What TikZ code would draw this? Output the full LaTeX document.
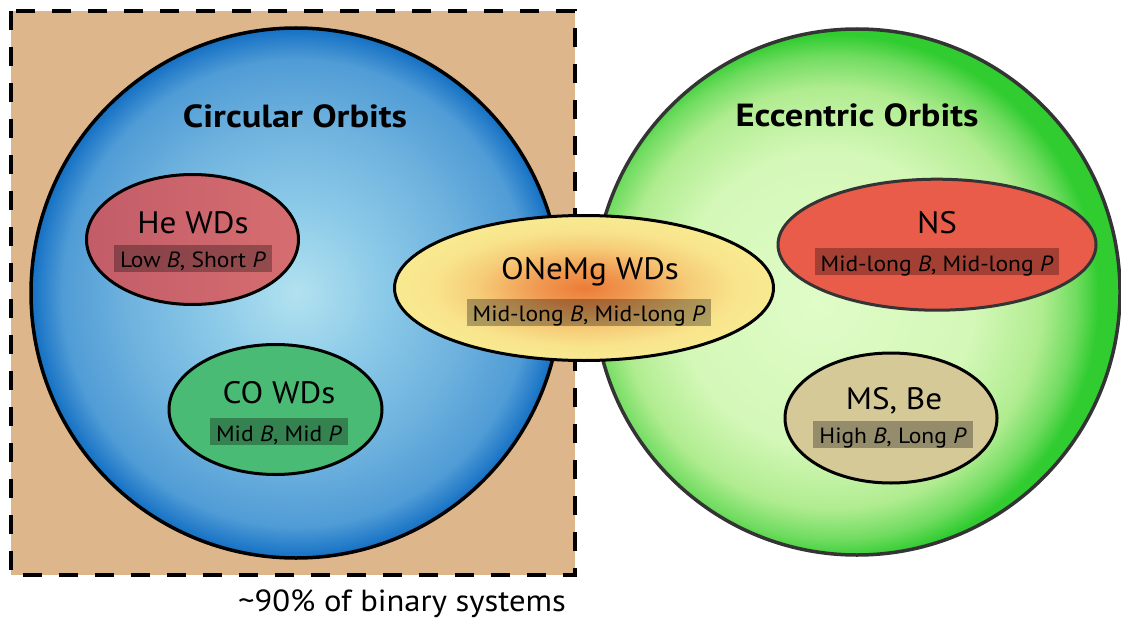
\documentclass[tikz,border=0pt]{standalone}
\usepackage{fontspec}
\setmainfont{PT Sans}[FakeStretch=1.07, BoldFeatures={FakeStretch=1.14}]
\usetikzlibrary{shapes.geometric}
\definecolor{tanbg}{RGB}{221,182,140}
\definecolor{bA}{RGB}{178,226,240}
\definecolor{bB}{RGB}{140,202,232}
\definecolor{bC}{RGB}{110,178,222}
\definecolor{bD}{RGB}{80,156,214}
\definecolor{bE}{RGB}{20,112,196}
\definecolor{gA}{RGB}{224,252,200}
\definecolor{gB}{RGB}{212,248,184}
\definecolor{gC}{RGB}{176,236,144}
\definecolor{gD}{RGB}{112,220,96}
\definecolor{gE}{RGB}{48,204,48}
\definecolor{oA}{RGB}{236,124,56}
\definecolor{oB}{RGB}{240,152,80}
\definecolor{oC}{RGB}{246,204,120}
\definecolor{oD}{RGB}{248,228,140}
\definecolor{oE}{RGB}{248,234,144}
\definecolor{heL}{RGB}{194,92,104}
\definecolor{heR}{RGB}{214,110,112}
\definecolor{cofill}{RGB}{74,187,116}
\definecolor{nsfill}{RGB}{234,92,74}
\definecolor{msfill}{RGB}{213,201,152}
\definecolor{dgray}{RGB}{52,52,52}
\pgfdeclareradialshading{blueball}{\pgfpoint{0bp}{0bp}}{color(0bp)=(bA); color(8bp)=(bB); color(16bp)=(bC); color(22bp)=(bD); color(25bp)=(bE); color(50bp)=(bE)}
\pgfdeclareradialshading{greenball}{\pgfpoint{-4bp}{-1bp}}{color(0bp)=(gA); color(14bp)=(gB); color(20bp)=(gC); color(23bp)=(gD); color(25bp)=(gE); color(50bp)=(gE)}
\pgfdeclareradialshading{orangeball}{\pgfpoint{0bp}{0bp}}{color(0bp)=(oA); color(6bp)=(oB); color(14bp)=(oC); color(20bp)=(oD); color(25bp)=(oE); color(50bp)=(oE)}
\tikzset{
  orbit/.style={circle, inner sep=0pt, line width=3.5pt, shade},
  pop/.style={ellipse, inner sep=0pt, line width=3pt, draw=black},
  ttl/.style={font=\fontsize{31}{31}\selectfont, anchor=base, inner sep=0pt},
  hd/.style={font=\bfseries\fontsize{32}{32}\selectfont, anchor=base, inner sep=0pt},
  lbl/.style={font=\fontsize{22}{22}\selectfont, anchor=base, fill=black, fill opacity=0.3, text opacity=1, inner xsep=6pt, inner ysep=0pt, text height=23pt, text depth=4pt},
  frame/.style={line width=4.5pt, dash pattern=on 19pt off 17pt},
}
\begin{document}
\begin{tikzpicture}[x=1pt,y=-1pt]
\useasboundingbox (0,0) rectangle (1121,623);
% background area
\fill[tanbg] (11,11) rectangle (575,575);
\draw[frame] (11,11) rectangle (575,575);
% orbit circles
\node[orbit, shading=blueball, draw=black, minimum size=530pt] (circ) at (296,293) {};
\node[orbit, shading=greenball, draw=dgray, minimum size=526pt] (ecc) at (857,292) {};
% populations
\node[pop, left color=heL, right color=heR, minimum width=212pt, minimum height=130pt] (he) at (192.5,239.5) {};
\node[pop, fill=cofill, minimum width=213pt, minimum height=130pt] (co) at (275.5,409.5) {};
\node[pop, draw=dgray, fill=nsfill, minimum width=318pt, minimum height=131pt] (ns) at (937,244.7) {};
\node[pop, fill=msfill, minimum width=212pt, minimum height=130pt] (ms) at (891,418) {};
\node[pop, shade, shading=orangeball, minimum width=379pt, minimum height=145pt] (one) at (584,288) {};
% titles
\node[hd] (circt) at (295,128) {Circular Orbits};
\node[hd] (ecct) at (857,127) {Eccentric Orbits};
\node[ttl] (het) at (193,233) {He WDs};
\node[lbl] (hel) at (193,267.7) {Low \textit{B}, Short \textit{P}};
\node[ttl] (cot) at (279,403) {CO WDs};
\node[lbl] (col) at (279,441) {Mid \textit{B}, Mid \textit{P}};
\node[ttl] (onet) at (590,279) {ONeMg WDs};
\node[lbl] (onel) at (589,321.7) {Mid-long \textit{B}, Mid-long \textit{P}};
\node[ttl] (nst) at (937,233) {NS};
\node[lbl] (nsl) at (937,271) {Mid-long \textit{B}, Mid-long \textit{P}};
\node[ttl] (mst) at (894,409) {MS, Be};
\node[lbl] (msl) at (893,443.7) {High \textit{B}, Long \textit{P}};
\node[font=\fontsize{30.5}{30.5}\selectfont, anchor=base, inner sep=0pt] (frac) at (402,611.7) {\textasciitilde 90\% of binary systems};
\end{tikzpicture}
\end{document}
